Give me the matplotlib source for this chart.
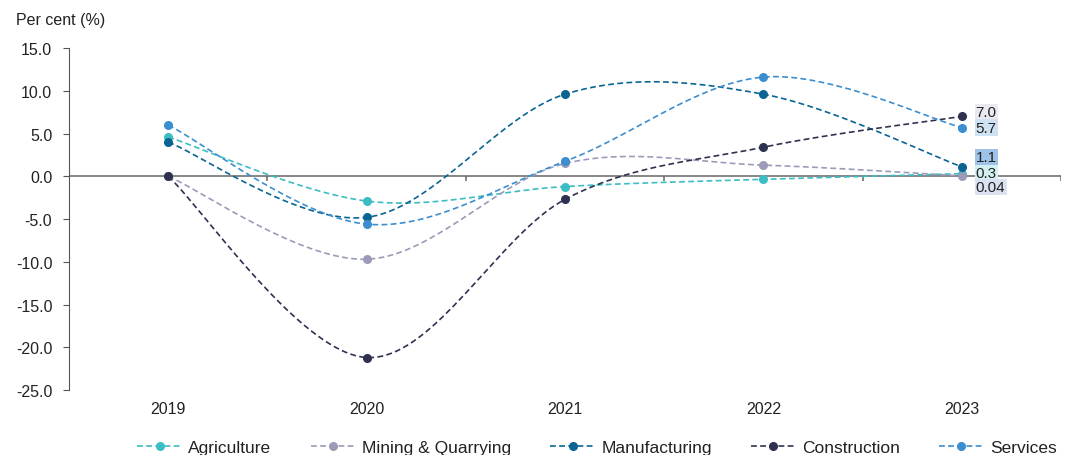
import numpy as np
import matplotlib.pyplot as plt
from matplotlib.lines import Line2D

plt.rcParams['font.family'] = ['Liberation Sans', 'DejaVu Sans']

years = ['2019', '2020', '2021', '2022', '2023']
agriculture = [4.6, -2.9, -1.2, -0.35, 0.3]
mining = [0.0, -9.7, 1.5, 1.3, 0.04]
manufacturing = [4.0, -4.8, 9.6, 9.6, 1.1]
construction = [0.0, -21.2, -2.7, 3.4, 7.0]
services = [6.0, -5.6, 1.75, 11.6, 5.7]

series = [
    ('Agriculture', agriculture, '#3bbdc4', '#d3f1f2'),
    ('Mining & Quarrying', mining, '#9b9bb9', '#dbe1f1'),
    ('Manufacturing', manufacturing, '#0b6592', '#9fc3e6'),
    ('Construction', construction, '#2e3250', '#e9e9ef'),
    ('Services', services, '#3b8fd0', '#cfe2f3'),
]
# label offsets (points) at the last point, so the boxes do not overlap
label_dy = {'Agriculture': 0.5, 'Mining & Quarrying': -8, 'Manufacturing': 7,
            'Construction': 3, 'Services': 0}


def smooth(xs, ys, n=40):
    # bezier smoothing through every point, like spreadsheet "smoothed line"
    p = np.column_stack([xs, ys]).astype(float)
    ext = np.vstack([p[0], p, p[-1]])
    out = []
    t = np.linspace(0, 1, n)[:, None]
    for i in range(len(p) - 1):
        p0, p3 = ext[i + 1], ext[i + 2]
        c1 = p0 + (ext[i + 2] - ext[i]) / 6
        c2 = p3 - (ext[i + 3] - ext[i + 1]) / 6
        seg = ((1 - t) ** 3) * p0 + 3 * ((1 - t) ** 2) * t * c1 + 3 * (1 - t) * t ** 2 * c2 + t ** 3 * p3
        out.append(seg)
    out = np.vstack(out)
    return out[:, 0], out[:, 1]


fig = plt.figure(figsize=(10.65, 4.56), dpi=100)
ax = fig.add_axes([0.0648, 0.1425, 0.9315, 0.75])

x = np.arange(len(years))
handles = []
for name, vals, col, box in series:
    sx, sy = smooth(x, vals)
    ax.plot(sx, sy, color=col, lw=1.2, ls=(0, (3.5, 2)), zorder=2)
    ax.plot(x, vals, 'o', color=col, ms=5.5, zorder=3)
    v = vals[-1]
    txt = f'{v:.2f}' if abs(v) < 0.1 else f'{v:.1f}'
    ax.annotate(txt, (x[-1], v), xytext=(10, label_dy[name]), textcoords='offset points',
                ha='left', va='center', fontsize=11, color='#222222',
                bbox=dict(boxstyle='square,pad=0.08', fc=box, ec='none'), zorder=4)
    handles.append(Line2D([], [], color=col, lw=1.2, ls=(0, (3.5, 2)), marker='o', ms=5.5))

ax.set_xlim(-0.5, 4.5)
ax.set_ylim(-25, 15)
ax.set_yticks(np.arange(-25, 16, 5))
ax.set_yticklabels([f'{v:.1f}' for v in np.arange(-25, 16, 5)])
ax.set_xticks(x)
ax.set_xticklabels(years)
ax.tick_params(axis='y', direction='out', length=4, color='#555555', labelsize=11.5,
               labelcolor='#222222', pad=8)
ax.tick_params(axis='x', length=0, labelsize=11.5, labelcolor='#222222', pad=8)
for s in ['top', 'right', 'bottom']:
    ax.spines[s].set_visible(False)
ax.spines['left'].set_color('#555555')

# category axis drawn at zero, with boundary ticks
ax.axhline(0, color='#666666', lw=1.1, zorder=1)
ax.vlines(np.arange(0.5, 5, 1), -0.6, 0, color='#666666', lw=1.1, zorder=1)

fig.text(0.015, 0.955, 'Per cent (%)', fontsize=11.5, color='#222222', va='center')

fig.legend(handles, [s[0] for s in series], loc='center', ncol=5,
           bbox_to_anchor=(0.5606, 0.017), frameon=False, fontsize=12.5,
           labelcolor='#222222', handlelength=2.6, columnspacing=2.25, handletextpad=0.35)

fig.savefig('out.png', dpi=100)
